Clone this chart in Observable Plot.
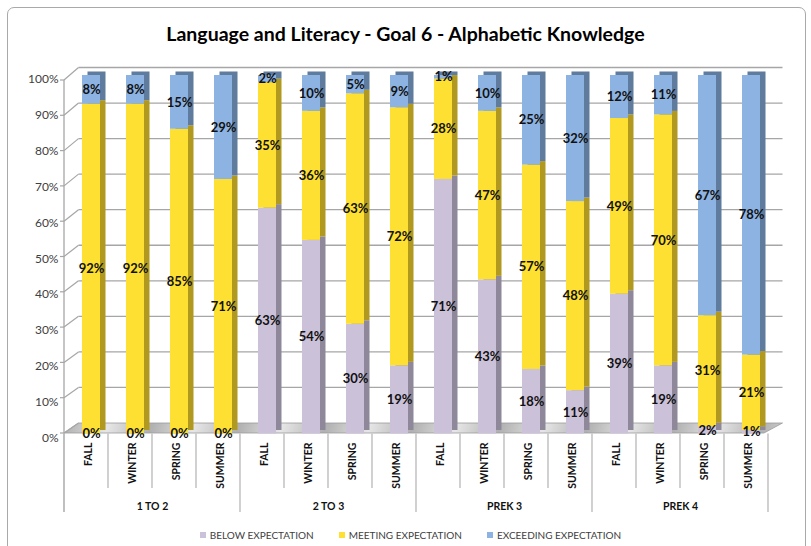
<!DOCTYPE html>
<html><head><meta charset="utf-8">
<script src="https://cdn.jsdelivr.net/npm/d3@7"></script>
<script src="https://cdn.jsdelivr.net/npm/@observablehq/plot@0.6"></script>
<style>
html,body{margin:0;padding:0;background:#fff;overflow:hidden;}
#wrap{position:relative;width:811px;height:546px;font-family:Lato, "Open Sans", sans-serif;overflow:hidden;}
#frame{position:absolute;left:7px;top:7px;width:799px;height:600px;border:1.5px solid #a9a9a9;border-radius:7px;box-sizing:border-box;pointer-events:none;}
#title{height:58px;box-sizing:border-box;padding-top:22px;line-height:24px;text-align:center;font-weight:700;font-size:19.5px;color:#000;}
#chart svg{display:block;}
#legend{height:26px;box-sizing:border-box;padding-top:4px;line-height:12px;display:flex;justify-content:center;gap:25px;font-size:10px;color:#404040;padding-left:10px;}
#legend .it{display:flex;align-items:center;gap:4px;}
#legend .sw{width:6px;height:6px;display:inline-block;}
[aria-label="x-axis tick label"]{font-weight:700;}
</style>
</head><body>
<div id="wrap">
  <div id="frame"></div>
  <div id="title"></div>
  <div id="chart"></div>
  <div id="legend"></div>
</div>
<script>
const title = "Language and Literacy - Goal 6 - Alphabetic Knowledge";
const groups = ["1 TO 2", "2 TO 3", "PREK 3", "PREK 4"];
const seasons = ["FALL", "WINTER", "SPRING", "SUMMER"];
const levels = ["BELOW EXPECTATION", "MEETING EXPECTATION", "EXCEEDING EXPECTATION"];
// values per bar, in order group x season
const below     = [0, 0, 0, 0,   63, 54, 30, 19,   71, 43, 18, 11,   39, 19, 2, 1];
const meeting   = [92, 92, 85, 71, 35, 36, 63, 72,  28, 47, 57, 48,   49, 70, 31, 21];
const exceeding = [8, 8, 15, 29,  2, 10, 5, 9,     1, 10, 25, 32,    12, 11, 67, 78];
const yTicks = [0, 0.1, 0.2, 0.3, 0.4, 0.5, 0.6, 0.7, 0.8, 0.9, 1];

const frontColors = ["#cbc1d9", "#fde031", "#8db3e2"];
const sideColors  = ["#8f889a", "#b1981f", "#5f7b9d"];

document.getElementById("title").textContent = title;

const keys = [];
groups.forEach(g => seasons.forEach(s => keys.push(g + "|" + s)));
const series = [below, meeting, exceeding];
const rows = [];
keys.forEach((k, i) => levels.forEach((lv, j) => rows.push({key: k, level: lv, li: j, value: series[j][i]})));

const stackOpts = {x: "key", y: "value", z: "level", order: levels, offset: "normalize"};

const chart = Plot.plot({
  width: 811, height: 462,
  marginTop: 17, marginBottom: 86.5, marginLeft: 64, marginRight: 43,
  style: {fontFamily: "Lato, 'Open Sans', sans-serif", fontSize: "12px", background: "transparent", overflow: "visible"},
  x: {domain: keys, padding: 0, axis: null},
  y: {domain: [0, 1], axis: null},
  color: {type: "identity"},
  marks: [
    Plot.barY(rows, {...stackOpts, fill: d => sideColors[d.li], insetLeft: 18, insetRight: 8, dx: 5.5, dy: -3.5}),
    Plot.barY(rows, {...stackOpts, fill: d => frontColors[d.li], insetLeft: 18, insetRight: 8}),
    Plot.text(rows, Plot.stackY({...stackOpts, text: d => d.value + "%", dx: 5, fontWeight: "bold", fontSize: 13, fill: "#111"})),
    Plot.axisX({tickFormat: k => k.split("|")[1], tickRotate: -90, tickSize: 0, tickPadding: 8.5, fontSize: 10.5, fontWeight: "bold", fill: "#111", label: null, dx: 2}),
    Plot.axisY({ticks: yTicks, tickFormat: d3.format(".0%"), tickSize: 0, tickPadding: 6, dy: 4, fontSize: 12, fill: "#404040", label: null}),
    Plot.text(groups, {x: g => g + "|SPRING", y: 0, dy: 72.5, dx: -22, text: g => g, fontSize: 10.5, fontWeight: "bold", fill: "#111"})
  ]
});
document.getElementById("chart").appendChild(chart);

// 3-D decorations derived from Plot's own scales
const sx = chart.scale("x"), sy = chart.scale("y");
const X = k => sx.apply(k), Y = v => sy.apply(v);
const xL = sx.range[0], xR = sx.range[1];
const depthX = 14.5;
const back = v => Y(v) - 10.5 + 3 * v;
const front = v => Y(v) - 0.5 + 5.5 * v;
const svg = d3.select(chart);
const under = svg.insert("g", "g");
const defs = under.append("defs");
const grad = defs.append("linearGradient").attr("id", "floorGrad")
  .attr("gradientUnits", "userSpaceOnUse")
  .attr("x1", 0).attr("y1", 0).attr("x2", 40).attr("y2", 12).attr("spreadMethod", "reflect");
grad.append("stop").attr("offset", "0%").attr("stop-color", "#b0b0b0");
grad.append("stop").attr("offset", "100%").attr("stop-color", "#e6e6e6");
// back-wall gridlines
under.selectAll("line.grid").data(yTicks.filter(v => v > 0)).join("line")
  .attr("x1", xL + depthX).attr("x2", xR + depthX)
  .attr("y1", back).attr("y2", back)
  .attr("stroke", "#a6a6a6").attr("stroke-width", 1.3);
// floor
under.append("path")
  .attr("d", `M${xL},${front(0)}L${xR - 4},${front(0)}L${xR + depthX},${back(0)}L${xL + depthX},${back(0)}Z`)
  .attr("fill", "url(#floorGrad)").attr("stroke", "#9a9a9a").attr("stroke-width", 0.8);
// diagonal side-wall ticks
under.selectAll("line.diag").data(yTicks).join("line")
  .attr("x1", xL).attr("x2", xL + depthX)
  .attr("y1", front).attr("y2", back)
  .attr("stroke", "#a6a6a6").attr("stroke-width", 1.2);

const over = svg.append("g");
over.selectAll("line.tk").data(yTicks).join("line")
  .attr("x1", xL - 4).attr("x2", xL).attr("y1", front).attr("y2", front)
  .attr("stroke", "#a6a6a6").attr("stroke-width", 1.2);
over.append("line").attr("x1", xL).attr("x2", xL).attr("y1", front(1)).attr("y2", Y(0) + 78.5)
  .attr("stroke", "#a6a6a6").attr("stroke-width", 1.3);
const seps = keys.map((k, i) => ({x: X(k), long: i % 4 === 0})).concat([{x: xR, long: true}]);
over.selectAll("line.sep").data(seps).join("line")
  .attr("x1", d => d.x).attr("x2", d => d.x)
  .attr("y1", Y(0)).attr("y2", d => Y(0) + (d.long ? 78.5 : 54.5))
  .attr("stroke", "#bdbdbd").attr("stroke-width", 1.4);

// legend
const lg = d3.select("#legend");
levels.forEach((lv, j) => {
  const it = lg.append("div").attr("class", "it");
  it.append("span").attr("class", "sw").style("background", frontColors[j]);
  it.append("span").text(lv);
});
</script>
</body></html>
